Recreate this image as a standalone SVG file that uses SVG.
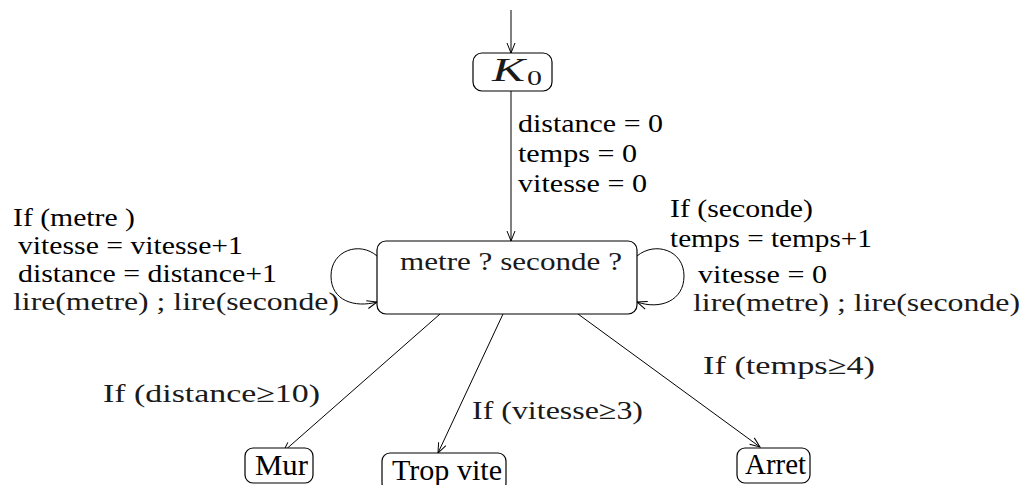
<svg xmlns="http://www.w3.org/2000/svg" width="1028" height="485" viewBox="0 0 1028 485">
<style>
.box{fill:#fff;stroke:#000;stroke-width:1.2}
.edge{fill:none;stroke:#000;stroke-width:1}
.t{font-family:"Liberation Serif","Times New Roman",serif;font-size:25px;fill:#000}
.cm{font-family:"Liberation Serif","Times New Roman",serif;font-size:26px;fill:#1a1a1a}
.n{font-family:"Liberation Serif","Times New Roman",serif;font-size:29px;fill:#000}
</style>
<defs>
<marker id="arr" markerUnits="userSpaceOnUse" markerWidth="14" markerHeight="12" refX="11" refY="5" orient="auto">
<path d="M1,1 L11,5 L1,9" fill="none" stroke="#000" stroke-width="1"/>
</marker>
</defs>
<rect width="1028" height="485" fill="#fff"/>
<g id="connectors">
<line class="edge" x1="511" y1="10" x2="511" y2="53" marker-end="url(#arr)"/>
<line class="edge" x1="511" y1="91" x2="511" y2="241" marker-end="url(#arr)"/>
<path class="edge" d="M377,256 C360,241 331,250 331,276 C331,301 355,308 377,302" marker-end="url(#arr)"/>
<path class="edge" d="M637,256 C655,241 684,250 684,276 C684,301 660,310 637,302" marker-end="url(#arr)"/>
<line class="edge" x1="440" y1="314" x2="283" y2="452" marker-end="url(#arr)"/>
<line class="edge" x1="503" y1="314" x2="438" y2="453" marker-end="url(#arr)"/>
<line class="edge" x1="578" y1="314" x2="760" y2="447" marker-end="url(#arr)"/>
<text class="t" x="518" y="132" textLength="145" lengthAdjust="spacingAndGlyphs">distance = 0</text>
<text class="t" x="518" y="162" textLength="119" lengthAdjust="spacingAndGlyphs">temps = 0</text>
<text class="t" x="518" y="192" textLength="129" lengthAdjust="spacingAndGlyphs">vitesse = 0</text>
<text class="t" x="13" y="226" textLength="122" lengthAdjust="spacingAndGlyphs">If (metre )</text>
<text class="t" x="18" y="254" textLength="225" lengthAdjust="spacingAndGlyphs">vitesse = vitesse+1</text>
<text class="t" x="18" y="282" textLength="259" lengthAdjust="spacingAndGlyphs">distance = distance+1</text>
<text class="cm" x="13" y="310" textLength="326" lengthAdjust="spacingAndGlyphs">lire(metre) ; lire(seconde)</text>
<text class="t" x="670" y="217" textLength="143" lengthAdjust="spacingAndGlyphs">If (seconde)</text>
<text class="t" x="670" y="247" textLength="202" lengthAdjust="spacingAndGlyphs">temps = temps+1</text>
<text class="t" x="698" y="283" textLength="129" lengthAdjust="spacingAndGlyphs">vitesse = 0</text>
<text class="cm" x="693" y="311" textLength="327" lengthAdjust="spacingAndGlyphs">lire(metre) ; lire(seconde)</text>
<text class="cm" x="103" y="402" textLength="217" lengthAdjust="spacingAndGlyphs">If (distance≥10)</text>
<text class="cm" x="472" y="419" textLength="171" lengthAdjust="spacingAndGlyphs">If (vitesse≥3)</text>
<text class="cm" x="703" y="374" textLength="172" lengthAdjust="spacingAndGlyphs">If (temps≥4)</text>
</g>
<g id="K0">
<rect class="box" x="473" y="53" width="79" height="38" rx="9"/>
<text x="492" y="81" font-family="Liberation Serif, serif" font-style="italic" font-size="33" fill="#1a1a1a" textLength="33" lengthAdjust="spacingAndGlyphs">K</text>
<text x="527" y="85" font-family="Liberation Serif, serif" font-size="22" fill="#1a1a1a" textLength="15" lengthAdjust="spacingAndGlyphs">0</text>
</g>
<g id="central">
<rect class="box" x="377" y="241" width="260" height="73" rx="9"/>
<text class="cm" x="400" y="270" textLength="222" lengthAdjust="spacingAndGlyphs">metre ? seconde ?</text>
</g>
<g id="Mur">
<rect class="box" x="245" y="448" width="68" height="35" rx="8"/>
<text class="n" x="255" y="475" textLength="53" lengthAdjust="spacingAndGlyphs">Mur</text>
</g>
<g id="TropVite">
<rect class="box" x="382" y="453" width="124" height="38" rx="8"/>
<text class="n" x="392" y="480" textLength="110" lengthAdjust="spacingAndGlyphs">Trop vite</text>
</g>
<g id="Arret">
<rect class="box" x="737" y="448" width="73" height="35" rx="8"/>
<text class="n" x="745" y="474" textLength="61" lengthAdjust="spacingAndGlyphs">Arret</text>
</g>
</svg>
